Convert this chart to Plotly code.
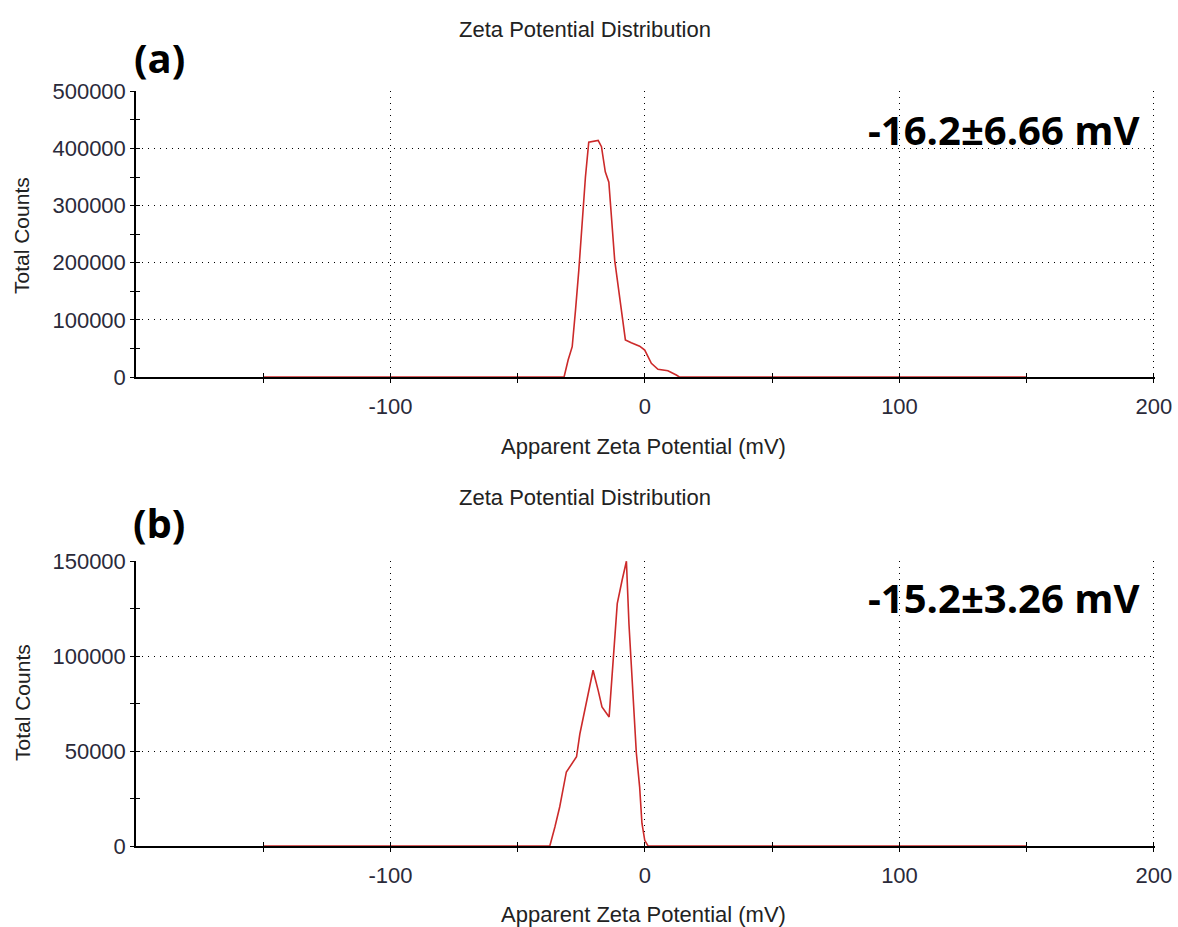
import plotly.graph_objects as go

# ---------------- data ----------------
x_a = [-150, -31.8, -30.2, -28.6, -27.3, -26.0, -23.4, -22.1, -18.4, -17.1, -15.6, -14.2,
       -11.9, -9.3, -7.7, -5.4, -2.1, -0.1, 2.5, 5.1, 9.0, 12.3, 13.5, 150]
y_a = [0, 0, 29700, 53000, 117000, 187000, 350000, 411000, 414000, 403000, 359000, 341000,
       204000, 112000, 65000, 60000, 54000, 47000, 24000, 13500, 11000, 3500, 0, 0]

x_b = [-150, -37.4, -35.4, -33.5, -30.9, -29.5, -26.9, -25.6, -23.0, -20.4, -18.4, -16.9,
       -14.1, -12.2, -10.9, -9.0, -7.3, -6.3, -4.7, -3.4, -2.1, -1.2, -0.1, 1.2, 150]
y_b = [0, 0, 10000, 20700, 39000, 41800, 47000, 59000, 76800, 92600, 82000, 73300,
       68000, 103000, 127700, 140000, 150000, 117000, 78600, 49000, 31000, 12000, 3000, 0, 0]

x_ticks = [-100, 0, 100, 200]
x_tick_labels = ["-100", "0", "100", "200"]
x_minor = [-150, -50, 50, 150]
y_ticks_a = [0, 100000, 200000, 300000, 400000, 500000]
y_ticks_b = [0, 50000, 100000, 150000]

panel_labels = ["(a)", "(b)"]
zeta_labels = ["-16.2±6.66 mV", "-15.2±3.26 mV"]
title_text = "Zeta Potential Distribution"
x_title = "Apparent Zeta Potential (mV)"
y_title = "Total Counts"

# ---------------- layout helpers ----------------
W, H = 1178, 927
def px_x(p): return p / W
def px_y(p): return 1 - p / H

dom_x = [px_x(136), px_x(1155)]
dom_a = [px_y(377), px_y(91)]
dom_b = [px_y(846), px_y(561)]

RED = "#cc2a2a"
FONT = "Liberation Sans, Arial, sans-serif"
TICKCOL = "#2a2a3a"

fig = go.Figure()
fig.add_trace(go.Scatter(x=x_a, y=y_a, mode="lines", line=dict(color=RED, width=1.6),
                         xaxis="x", yaxis="y", showlegend=False, hoverinfo="skip"))
fig.add_trace(go.Scatter(x=x_b, y=y_b, mode="lines", line=dict(color=RED, width=1.6),
                         xaxis="x2", yaxis="y2", showlegend=False, hoverinfo="skip"))
# empty traces to attach the inward-tick overlay axes
for xa, ya in [("x3", "y3"), ("x4", "y4")]:
    fig.add_trace(go.Scatter(x=[], y=[], xaxis=xa, yaxis=ya, showlegend=False))

grid = dict(showgrid=True, gridcolor="#000000", gridwidth=1, griddash="1px,5px")
xcommon = dict(range=[-200, 200.4], tickvals=x_ticks, ticktext=x_tick_labels,
               ticks="outside", ticklen=4, tickcolor="#000", tickwidth=1,
               showline=True, linecolor="#000", linewidth=1.5, zeroline=False,
               minor=dict(tickvals=x_minor, ticks="outside", ticklen=4,
                          tickcolor="#000", showgrid=False),
               tickfont=dict(family=FONT, size=22, color=TICKCOL),
               ticklabelstandoff=5, ticklabeloverflow="allow", automargin=False,
               domain=dom_x, **grid)

def ycommon(ticks, dmin, top):
    return dict(range=[0, top * 1.001], tickvals=ticks, ticktext=[str(t) for t in ticks],
                ticks="outside", ticklen=4, tickcolor="#000", tickwidth=1,
                showline=True, linecolor="#000", linewidth=1.5, zeroline=False,
                minor=dict(dtick=dmin, tick0=0, ticks="outside", ticklen=4,
                           tickcolor="#000", showgrid=False),
                tickfont=dict(family=FONT, size=22, color=TICKCOL), ticklabelstandoff=0,
                ticklabeloverflow="allow", automargin=False, **grid)

def x_over(base, anchor):
    return dict(overlaying=base, anchor=anchor, range=[-200, 200.4], side="bottom",
                tickvals=x_ticks, ticks="inside", ticklen=4, tickcolor="#000",
                showticklabels=False, showgrid=False, showline=False, zeroline=False,
                automargin=False,
                minor=dict(tickvals=x_minor, ticks="inside", ticklen=4,
                           tickcolor="#000", showgrid=False))

def y_over(base, anchor, ticks, dmin, top):
    return dict(overlaying=base, anchor=anchor, range=[0, top * 1.001], side="left",
                tickvals=ticks, ticks="inside", ticklen=4, tickcolor="#000",
                showticklabels=False, showgrid=False, showline=False, zeroline=False,
                automargin=False,
                minor=dict(dtick=dmin, tick0=0, ticks="inside", ticklen=4,
                           tickcolor="#000", showgrid=False))

fig.update_layout(
    width=W, height=H, autosize=False, margin=dict(l=0, r=0, t=0, b=0, pad=0),
    paper_bgcolor="white", plot_bgcolor="white", showlegend=False,
    xaxis=dict(anchor="y", **xcommon),
    yaxis=dict(anchor="x", domain=dom_a, **ycommon(y_ticks_a, 50000, 500000)),
    xaxis2=dict(anchor="y2", **xcommon),
    yaxis2=dict(anchor="x2", domain=dom_b, **ycommon(y_ticks_b, 25000, 150000)),
    xaxis3=x_over("x", "y"),
    yaxis3=y_over("y", "x", y_ticks_a, 50000, 500000),
    xaxis4=x_over("x2", "y2"),
    yaxis4=y_over("y2", "x2", y_ticks_b, 25000, 150000),
)

annots = []
for title_y, xt_y, yt_y, lab_y, zeta_y, i in [(29, 447, 236, 57, 129, 0), (497, 914, 703, 522, 597, 1)]:
    annots.append(dict(text=title_text, x=px_x(585), y=px_y(title_y), xref="paper", yref="paper",
                       showarrow=False, xanchor="center", yanchor="middle",
                       font=dict(family=FONT, size=22, color="#222")))
    annots.append(dict(text=x_title, x=px_x(643), y=px_y(xt_y), xref="paper", yref="paper",
                       showarrow=False, xanchor="center", yanchor="middle",
                       font=dict(family=FONT, size=22, color="#222")))
    annots.append(dict(text=y_title, x=px_x(22), y=px_y(yt_y), xref="paper", yref="paper",
                       showarrow=False, xanchor="center", yanchor="middle", textangle=-90,
                       font=dict(family=FONT, size=21, color="#222")))
    annots.append(dict(text="<b>" + panel_labels[i] + "</b>", x=px_x(159), y=px_y(lab_y),
                       xref="paper", yref="paper", showarrow=False, xanchor="center",
                       yanchor="middle", font=dict(family="Open Sans, sans-serif", size=40, color="#000")))
    annots.append(dict(text="<b>" + zeta_labels[i] + "</b>", x=px_x(1141), y=px_y(zeta_y),
                       xref="paper", yref="paper", showarrow=False, xanchor="right",
                       yanchor="middle", font=dict(family="Open Sans, sans-serif", size=40, color="#000")))
fig.update_layout(annotations=annots)

fig.write_html("out.html")
